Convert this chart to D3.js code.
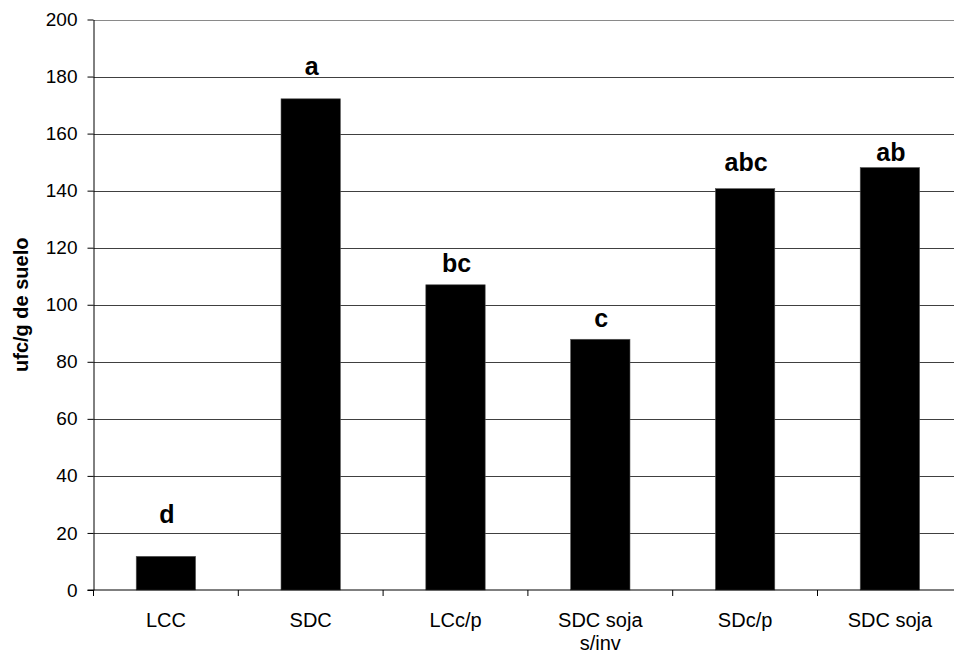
<!DOCTYPE html>
<html>
<head>
<meta charset="utf-8">
<script src="https://cdn.jsdelivr.net/npm/d3@7"></script>
<style>
  html, body { margin: 0; padding: 0; background: #fff; }
  svg { display: block; font-family: "Liberation Sans", Arial, sans-serif; }
</style>
</head>
<body>
<svg id="chart" width="954" height="660"></svg>
<script>
// Treatments (x categories); "\n" splits a label over two lines
const categories = ["LCC", "SDC", "LCc/p", "SDC soja\ns/inv", "SDc/p", "SDC soja"];
// Colony counts, ufc per gram of soil
const values = [11.8, 172.2, 107.0, 87.9, 140.7, 148.1];
// Significance letters above each bar
const letters = ["d", "a", "bc", "c", "abc", "ab"];
// Y axis ticks
const yTicks = [0, 20, 40, 60, 80, 100, 120, 140, 160, 180, 200];
const yTitle = "ufc/g de suelo";

const svg = d3.select("#chart");
const plot = { left: 93.5, top: 19.5, bottom: 590, step: 144.8 };
plot.right = plot.left + plot.step * categories.length;

const x = d3.scaleBand()
  .domain(categories)
  .range([plot.left, plot.right])
  .paddingInner(0.59)
  .paddingOuter(0.295);

const y = d3.scaleLinear()
  .domain([0, 200])
  .range([plot.bottom, plot.top]);

// Horizontal gridlines
svg.append("g")
  .selectAll("line")
  .data(yTicks.filter(d => d > 0))
  .join("line")
  .attr("x1", plot.left).attr("x2", plot.right)
  .attr("y1", d => Math.round(y(d)) + 0.5).attr("y2", d => Math.round(y(d)) + 0.5)
  .attr("stroke", d => d === 200 ? "#8a8a8a" : "#404040")
  .attr("stroke-width", 1);

// Bars
svg.append("g")
  .selectAll("rect")
  .data(categories)
  .join("rect")
  .attr("x", d => x(d))
  .attr("width", x.bandwidth())
  .attr("y", (d, i) => y(values[i]))
  .attr("height", (d, i) => y(0) - y(values[i]))
  .attr("fill", "#000")
  .attr("stroke", "#555")
  .attr("stroke-width", 0.6);

// Y axis
const yAxis = d3.axisLeft(y)
  .tickValues(yTicks)
  .tickSize(6)
  .tickPadding(10)
  .tickSizeOuter(0);
const gy = svg.append("g")
  .attr("transform", `translate(${plot.left},0)`)
  .call(yAxis);
gy.select(".domain").attr("stroke", "#000");
gy.selectAll(".tick line").attr("stroke", "#000");
gy.selectAll(".tick text")
  .attr("font-size", 19)
  .attr("font-family", "Liberation Sans, Arial, sans-serif")
  .attr("fill", "#000");

// X axis baseline with ticks at slot boundaries
const gx = svg.append("g");
gx.append("line")
  .attr("x1", plot.left - 6).attr("x2", plot.right)
  .attr("y1", y(0)).attr("y2", y(0))
  .attr("stroke", "#000");
gx.selectAll("line.tick")
  .data(d3.range(categories.length + 1))
  .join("line")
  .attr("class", "tick")
  .attr("x1", i => plot.left + i * x.step())
  .attr("x2", i => plot.left + i * x.step())
  .attr("y1", y(0)).attr("y2", y(0) + 6)
  .attr("stroke", "#000");

// Category labels
const labels = svg.append("g")
  .attr("font-size", 20)
  .attr("text-anchor", "middle")
  .attr("fill", "#000");
categories.forEach(c => {
  const t = labels.append("text")
    .attr("x", x(c) + x.bandwidth() / 2)
    .attr("y", 627);
  c.split("\n").forEach((line, j) => {
    t.append("tspan")
      .attr("x", x(c) + x.bandwidth() / 2)
      .attr("dy", j === 0 ? 0 : 23)
      .text(line);
  });
});

// Significance letters, lifted a little above each bar top
const letterLift = [33, 24, 13, 12, 18, 7];
svg.append("g")
  .attr("font-size", 25)
  .attr("font-weight", "bold")
  .attr("text-anchor", "middle")
  .selectAll("text")
  .data(categories)
  .join("text")
  .attr("x", d => x(d) + x.bandwidth() / 2 + 1)
  .attr("y", (d, i) => y(values[i]) - letterLift[i])
  .text((d, i) => letters[i]);

// Y axis title
svg.append("text")
  .attr("transform", `translate(28,${(plot.top + plot.bottom) / 2}) rotate(-90)`)
  .attr("text-anchor", "middle")
  .attr("font-size", 20)
  .attr("font-weight", "bold")
  .text(yTitle);
</script>
</body>
</html>
